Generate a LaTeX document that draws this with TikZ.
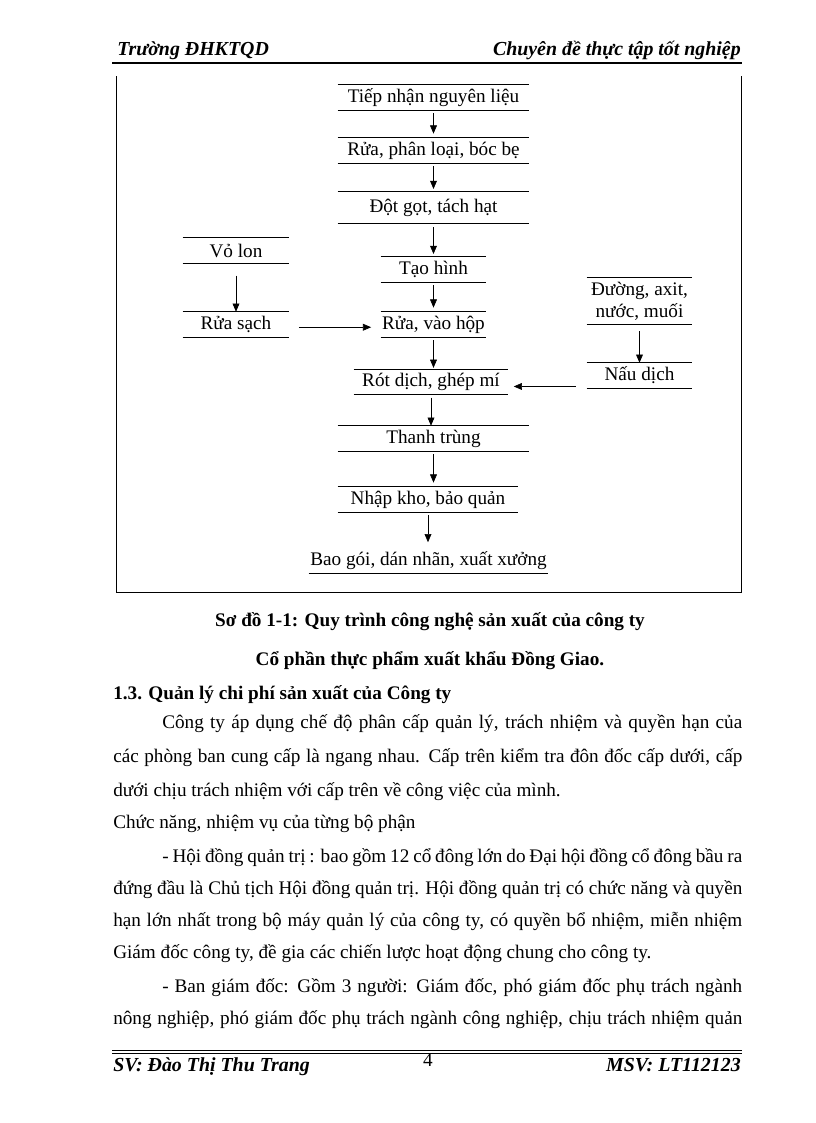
\documentclass[tikz,border=0pt]{standalone}
\usepackage{fontspec}
\setmainfont{Liberation Serif}
\usetikzlibrary{positioning,arrows.meta,calc}
\newcommand\pxu{0.7295pt}
\newcommand\bodyfont{\fontsize{14}{16}\selectfont}

\tikzset{
	stage/.style={inner sep=0pt, minimum height=25*\pxu, minimum width=#1*\pxu, font=\bodyfont, align=center,
		append after command={(\tikzlastnode.north west) edge[-,line width=.5pt] (\tikzlastnode.north east)
			(\tikzlastnode.south west) edge[-,line width=.5pt] (\tikzlastnode.south east)}},
	laststage/.style={inner sep=0pt, minimum height=25*\pxu, minimum width=#1*\pxu, font=\bodyfont,
		append after command={(\tikzlastnode.south west) edge[-,line width=.5pt] (\tikzlastnode.south east)}},
	flow/.style={-{Triangle[length=6pt,width=5pt]}, line width=.5pt},
	line/.style={font=\bodyfont, inner sep=0pt},
	page/.style={font=\fontsize{14.5}{16}\selectfont\bfseries\itshape, inner sep=0pt}
}

\begin{document}
\begin{tikzpicture}[x=\pxu,y=-\pxu]
	\useasboundingbox (0,0) rectangle (816,1123);
	
	% header
	\node[page, anchor=base west] (school) at (117,55) {Trường ĐHKTQD};
	\node[page, anchor=base east] (topic) at (741,55) {Chuyên đề thực tập tốt nghiệp};
	\draw[line width=1.3pt] (112,63) -- (742,63);
	
	% frame
	\draw[line width=.6pt] (116,76) -- (116,592) -- (741,592) -- (741,76);
	
	% main line
	\node[stage=191] (tiep) at (433.5,97.5) {Tiếp nhận nguyên liệu};
	\node[stage=191] (phan) at (433.5,150.5) {Rửa, phân loại, bóc bẹ};
	\node[stage=191, minimum height=31*\pxu] (dot) at (433.5,207.5) {Đột gọt, tách hạt};
	\node[stage=105] (tao) at (433.5,269.5) {Tạo hình};
	\node[stage=105] (vao) at (433.5,324.5) {Rửa, vào hộp};
	\node[stage=154] (rot) at (431,382) {Rót dịch, ghép mí};
	\node[stage=191] (thanh) at (433.5,438.5) {Thanh trùng};
	\node[stage=180] (nhap) at (428,499.5) {Nhập kho, bảo quản};
	\node[laststage=239] (bao) at (428.5,560.5) {Bao gói, dán nhãn, xuất xưởng};
	
	% side lines
	\node[stage=106] (vo) at (236,250.5) {Vỏ lon};
	\node[stage=106] (sach) at (236,324.5) {Rửa sạch};
	\node[stage=105, minimum height=46*\pxu] (duong) at (639.5,301) {Đường, axit,\\nước, muối};
	\node[stage=105] (nau) at (639.5,375.5) {Nấu dịch};
	
	\draw[flow, shorten <=2pt, shorten >=3pt] (tiep) -- (phan);
	\draw[flow, shorten <=2pt, shorten >=2pt] (phan) -- (dot);
	\draw[flow, shorten <=3pt, shorten >=2pt] (dot) -- (tao);
	\draw[flow, shorten <=2pt, shorten >=3pt] (tao) -- (vao);
	\draw[flow, shorten <=2pt, shorten >=1pt] (vao.south) -- (vao.south |- rot.north);
	\draw[flow, shorten <=2pt, shorten >=0pt] (rot.south) -- (rot.south |- thanh.north);
	\draw[flow, shorten <=2pt, shorten >=3pt] (thanh.south) -- (thanh.south |- nhap.north);
	\draw[flow, shorten <=2pt, shorten >=4pt] (nhap.south) -- (nhap.south |- bao.north);
	\draw[flow, shorten <=9pt, shorten >=0pt] (vo) -- (sach);
	\draw[flow, shorten <=5pt, shorten >=0pt] (duong) -- (nau);
	\draw[flow, shorten <=7pt, shorten >=7pt] ([yshift=-2pt]sach.east) -- ([yshift=-2pt]vao.west);
	\draw[flow, shorten <=8pt, shorten >=4pt] ([yshift=-8pt]nau.west) -- ([yshift=-8pt]nau.west -| rot.east);
	
	% caption
	\node[line, font=\bodyfont\bfseries, anchor=base] (cap1) at (430,626) {Sơ đồ 1-1: Quy trình công nghệ sản xuất của công ty};
	\node[line, font=\bodyfont\bfseries, anchor=base] (cap2) at (430,665) {Cổ phần thực phẩm xuất khẩu Đồng Giao.};
	\node[line, font=\bodyfont\bfseries, anchor=base west] (sec) at (113,699) {1.3. Quản lý chi phí sản xuất của Công ty};
	
	% text
	\node[line, anchor=base west] (p1) at (162,728) {\makebox[423.1pt][s]{Công ty áp dụng chế độ phân cấp quản lý, trách nhiệm và quyền hạn của}};
	\node[line, anchor=base west] (p2) at (113,762) {\makebox[458.9pt][s]{các phòng ban cung cấp là ngang nhau. Cấp trên kiểm tra đôn đốc cấp dưới, cấp}};
	\node[line, anchor=base west] (p3) at (113,796) {dưới chịu trách nhiệm với cấp trên về công việc của mình.};
	\node[line, anchor=base west] (p4) at (113,828) {Chức năng, nhiệm vụ của từng bộ phận};
	\node[line, anchor=base west] (p5) at (162,862) {\makebox[423.1pt][s]{- Hội đồng quản trị : bao gồm 12 cổ đông lớn do Đại hội đồng cổ đông bầu ra}};
	\node[line, anchor=base west] (p6) at (113,894) {\makebox[458.9pt][s]{đứng đầu là Chủ tịch Hội đồng quản trị. Hội đồng quản trị có chức năng và quyền}};
	\node[line, anchor=base west] (p7) at (113,926) {\makebox[458.9pt][s]{hạn lớn nhất trong bộ máy quản lý của công ty, có quyền bổ nhiệm, miễn nhiệm}};
	\node[line, anchor=base west] (p8) at (113,958) {Giám đốc công ty, đề gia các chiến lược hoạt động chung cho công ty.};
	\node[line, anchor=base west] (p9) at (162,992) {\makebox[423.1pt][s]{- Ban giám đốc: Gồm 3 người: Giám đốc, phó giám đốc phụ trách ngành}};
	\node[line, anchor=base west] (p10) at (113,1024) {\makebox[458.9pt][s]{nông nghiệp, phó giám đốc phụ trách ngành công nghiệp, chịu trách nhiệm quản}};
	
	% footer
	\draw[line width=.5pt] (112,1050) -- (742,1050);
	\draw[line width=.5pt] (112,1053.5) -- (742,1053.5);
	\node[page, anchor=base west] (sv) at (113,1071) {SV: Đào Thị Thu Trang};
	\node[line, anchor=base] (num) at (428,1066) {4};
	\node[page, anchor=base east] (msv) at (741,1071) {MSV: LT112123};
\end{tikzpicture}
\end{document}
